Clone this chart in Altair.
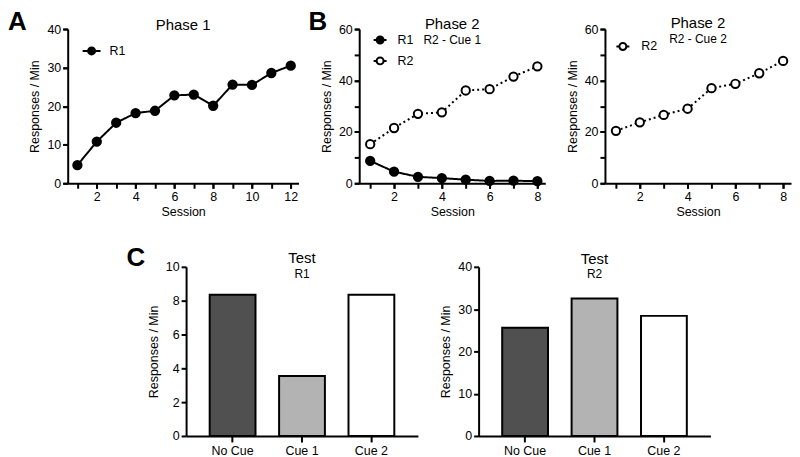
import altair as alt
import pandas as pd

FONT = "Liberation Sans"

# ---------------- data ----------------
a_sessions = list(range(1, 13))
a_r1 = [4.7, 10.8, 15.7, 18.2, 18.8, 22.8, 23.0, 20.1, 25.6, 25.5, 28.6, 30.5]

b_sessions = list(range(1, 9))
b_cue1_r1 = [8.7, 4.5, 2.5, 2.0, 1.4, 0.9, 1.0, 0.8]
b_cue1_r2 = [15.2, 21.5, 27.0, 27.6, 36.1, 36.6, 41.5, 45.5]
b_cue2_r2 = [20.4, 23.7, 26.6, 29.0, 37.0, 38.7, 42.8, 47.6]

c_conditions = ["No Cue", "Cue 1", "Cue 2"]
c_r1 = [8.35, 3.55, 8.35]
c_r2 = [25.6, 32.5, 28.4]

# tick values
a_xlabels = [2, 4, 6, 8, 10, 12]
b_xlabels = [2, 4, 6, 8]
a_yticks = [0, 10, 20, 30, 40]
b_ylabels = [0, 20, 40, 60]
b_yticks = [0, 10, 20, 30, 40, 50, 60]
c1_yticks = [0, 2, 4, 6, 8, 10]
c2_yticks = [0, 10, 20, 30, 40]

# ---------------- styles ----------------
SERIES_FILL = {"R1": "black", "R2": "white"}
SERIES_DASH = {"R1": [1, 0], "R2": [2, 3]}
BAR_FILLS = ["#505050", "#b3b3b3", "#ffffff"]


def sym_path(r):
    return (f"M-1,0H{-r}M{r},0H1M{-r},0A{r},{r} 0 1,0 {r},0"
            f"A{r},{r} 0 1,0 {-r},0Z")


def frame(sessions, series):
    rows = []
    for name, vals in series:
        for s, v in zip(sessions, vals):
            rows.append({"session": s, "value": v, "series": name})
    return pd.DataFrame(rows)


def title_params(text, subtitle, offset, pad):
    return alt.TitleParams(
        text=text, fontSize=15, font=FONT, fontWeight="normal",
        color="black", anchor="middle", frame="group", offset=offset,
        subtitle=subtitle, subtitleFont=FONT, subtitleFontSize=12,
        subtitleColor="black", subtitlePadding=pad)


def spacer(width, height, letter="", lx=0, ly=0):
    return alt.Chart(pd.DataFrame({"t": [letter]})).mark_text(
        font=FONT, fontSize=26, fontWeight="bold", align="left",
        baseline="top", color="black"
    ).encode(text="t:N", x=alt.value(lx), y=alt.value(ly)).properties(
        width=width, height=height)


def line_panel(df, names, xdom, xlabels, xticks, ydom, ylabels, yticks, width,
               title, subtitle, toffset, tpad, legend_kw):
    xs = alt.Scale(domain=xdom, nice=False, zero=False)
    ys = alt.Scale(domain=ydom, nice=False)
    base = alt.Chart(df)
    line = base.mark_line(color="black", strokeWidth=2).encode(
        x=alt.X("session:Q", scale=xs,
                axis=alt.Axis(values=xlabels, title="Session", orient="bottom",
                              labelOverlap=False)),
        y=alt.Y("value:Q", scale=ys,
                axis=alt.Axis(values=ylabels, title="Responses / Min",
                              orient="left", labelOverlap=False)),
        strokeDash=alt.StrokeDash(
            "series:N",
            scale=alt.Scale(domain=names, range=[SERIES_DASH[n] for n in names]),
            legend=None),
        detail="series:N",
    )
    pts = base.mark_circle(size=70, stroke="black", strokeWidth=2, opacity=1).encode(
        x=alt.X("session:Q", scale=xs,
                axis=alt.Axis(values=xticks, labels=False, domain=False,
                              title=None, orient="bottom")),
        y=alt.Y("value:Q", scale=ys,
                axis=alt.Axis(values=yticks, labels=False, domain=False,
                              title=None, orient="left")),
        fill=alt.Fill(
            "series:N",
            scale=alt.Scale(domain=names, range=[SERIES_FILL[n] for n in names]),
            legend=alt.Legend(title=None, orient="none",
                              symbolStrokeColor="black", symbolStrokeWidth=2,
                              labelFont=FONT, labelFontSize=12.5,
                              labelColor="black", symbolOpacity=1,
                              **legend_kw)),
    )
    return alt.layer(line, pts).properties(
        width=width, height=155,
        title=title_params(title, subtitle, toffset, tpad)
    ).resolve_axis(x="independent", y="independent").resolve_scale(
        fill="independent", strokeDash="independent")


def bar_panel(vals, ydom, yticks, subtitle, toffset):
    df = pd.DataFrame({"cond": c_conditions, "value": vals})
    bars = alt.Chart(df).mark_bar(stroke="black", strokeWidth=2).encode(
        x=alt.X("cond:N", sort=c_conditions,
                scale=alt.Scale(paddingInner=0.34, paddingOuter=0.34),
                axis=alt.Axis(title=None, labelAngle=0, tickSize=6,
                              labelPadding=3)),
        y=alt.Y("value:Q", scale=alt.Scale(domain=ydom, nice=False),
                axis=alt.Axis(values=yticks, title="Responses / Min",
                              labelOverlap=False)),
        fill=alt.Fill("cond:N", sort=c_conditions,
                      scale=alt.Scale(domain=c_conditions, range=BAR_FILLS),
                      legend=None),
    )
    return bars.properties(
        width=233, height=170, title=title_params("Test", subtitle, toffset, 2.5)
    )


pA = line_panel(
    frame(a_sessions, [("R1", a_r1)]), ["R1"], [0.5, 12.4], a_xlabels,
    a_sessions, [0, 40], a_yticks, a_yticks, 232, "Phase 1", "", -9.5, 0,
    dict(legendX=14, legendY=12, symbolType=sym_path(0.39), symbolSize=324,
         labelOffset=8))

pB1 = line_panel(
    frame(b_sessions, [("R1", b_cue1_r1), ("R2", b_cue1_r2)]), ["R1", "R2"],
    [0.54, 8.33], b_xlabels, b_sessions, [0, 60], b_ylabels, b_yticks, 187,
    "Phase 2", "R2 - Cue 1", -23.5, 3.5,
    dict(legendX=13.5, legendY=3.5, symbolType=sym_path(0.54), symbolSize=169,
         labelOffset=10, rowPadding=4))

pB2 = line_panel(
    frame(b_sessions, [("R2", b_cue2_r2)]), ["R2"],
    [0.54, 8.33], b_xlabels, b_sessions, [0, 60], b_ylabels, b_yticks, 187,
    "Phase 2", "R2 - Cue 2", -22, 3.5,
    dict(legendX=10.5, legendY=10, symbolType=sym_path(0.54), symbolSize=169,
         labelOffset=11))

pC1 = bar_panel(c_r1, [0, 10], c1_yticks, "R1", -19)
pC2 = bar_panel(c_r2, [0, 40], c2_yticks, "R2", -19.5)

top = alt.hconcat(
    spacer(60, 155, "A", 0, -20), pA,
    spacer(61, 155, "B", 10, -20), pB1,
    spacer(60, 155), pB2,
    spacing=0, bounds="flush")
bottom = alt.hconcat(
    spacer(179, 170, "C", 119, -22), pC1,
    spacer(61, 170), pC2,
    spacing=0, bounds="flush")

chart = alt.vconcat(top, bottom, spacing=239, bounds="flush").properties(
    padding={"left": 0, "top": 0, "right": 0, "bottom": 0},
    background="white",
).configure_view(stroke=None).configure_axis(
    labelFont=FONT, titleFont=FONT, labelFontSize=12.5, titleFontSize=12.5,
    titleFontWeight="normal", labelColor="black", titleColor="black",
    domainColor="black", tickColor="black", domainWidth=2, tickWidth=2,
    tickSize=5, grid=False, labelPadding=2, labelOverlap=False,
).configure_axisX(titlePadding=2.5).configure_axisY(titlePadding=5)

chart.save("out.html", embed_options={"renderer": "svg", "actions": False})
